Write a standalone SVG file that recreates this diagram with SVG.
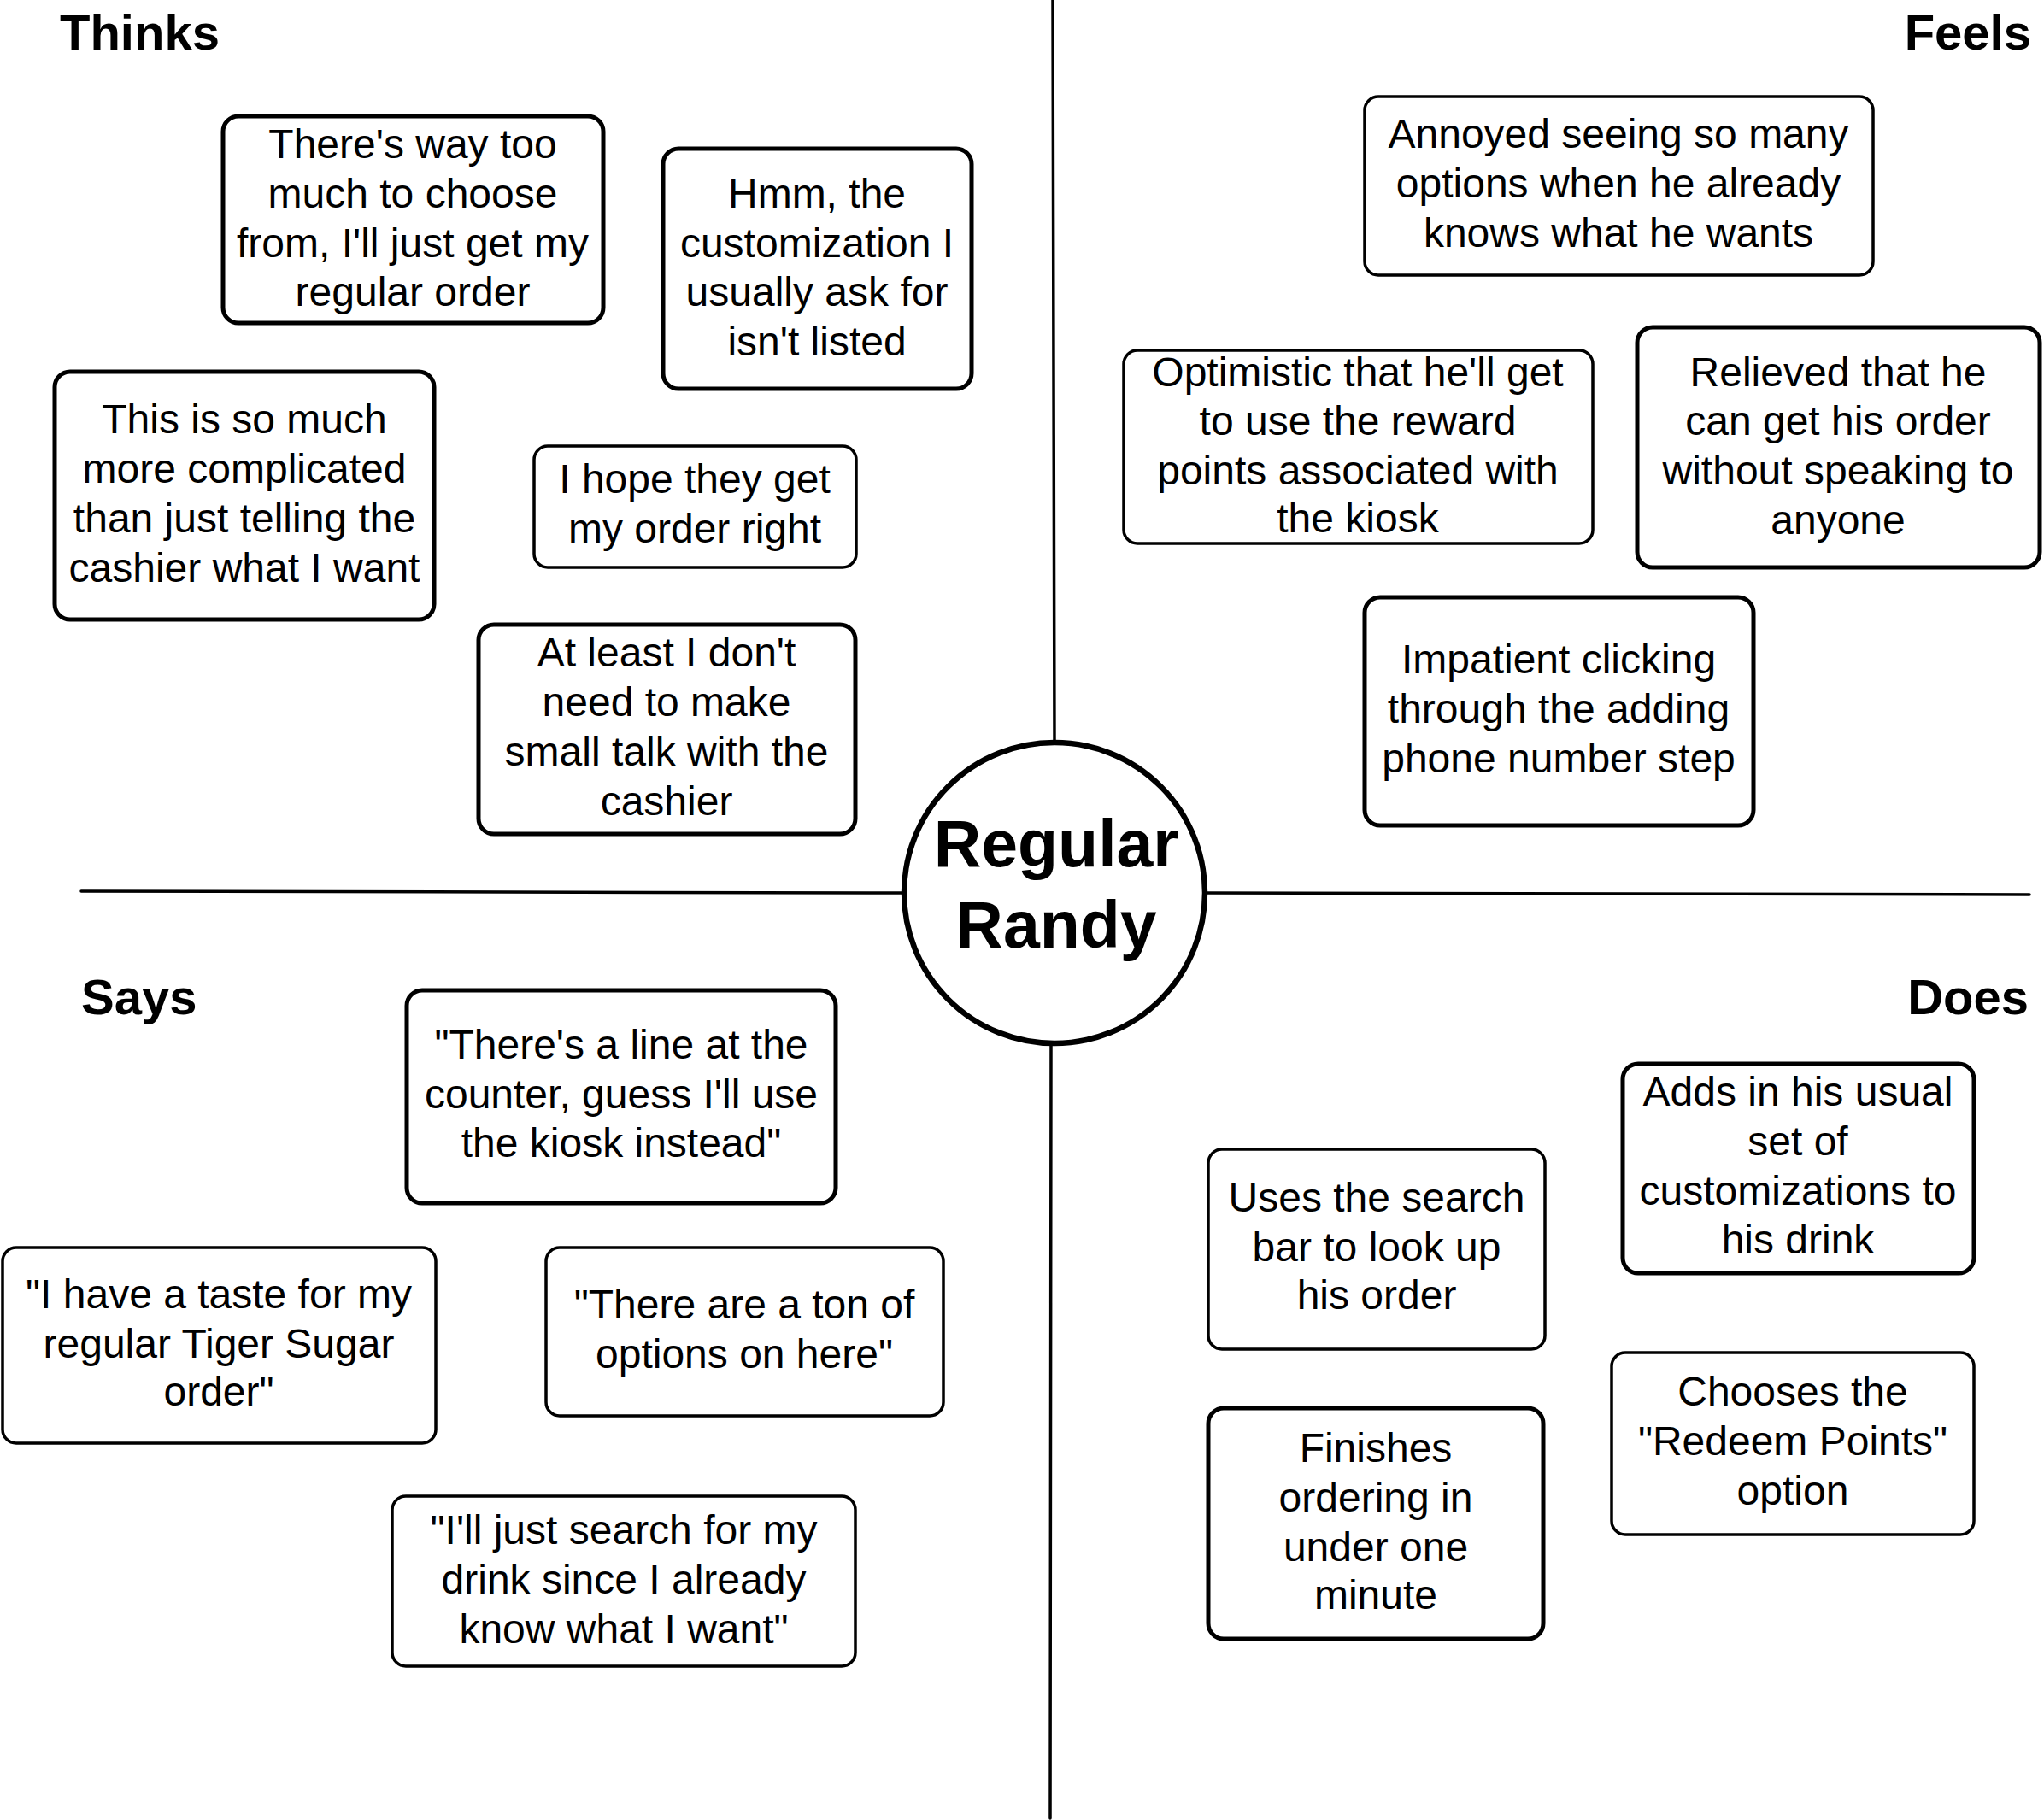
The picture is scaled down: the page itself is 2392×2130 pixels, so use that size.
<svg xmlns="http://www.w3.org/2000/svg" width="2392" height="2130" viewBox="0 0 2392 2130">
<style>
.bg{fill:#ffffff}
.ln{stroke:#000;stroke-width:3.5;fill:none;stroke-linecap:round}
.box{fill:#fff;stroke:#000;stroke-width:3.5}
.thick{stroke-width:5}
.t{font-family:"Liberation Sans",Arial,sans-serif;font-size:48px;fill:#000;text-anchor:middle}
.h{font-family:"Liberation Sans",Arial,sans-serif;font-size:58px;font-weight:bold;fill:#000}
.c{font-family:"Liberation Sans",Arial,sans-serif;font-size:77px;font-weight:bold;fill:#000;text-anchor:middle}
</style>
<rect class="bg" x="0" y="0" width="2392" height="2130"/>
<g id="connectors">
<line class="ln" x1="1232" y1="0" x2="1234" y2="869"/>
<line class="ln" x1="1230" y1="1221" x2="1229" y2="2128"/>
<line class="ln" x1="95" y1="1043" x2="1058" y2="1045"/>
<line class="ln" x1="1410" y1="1045" x2="2375" y2="1047"/>
</g>
<g id="titles">
<text class="h" x="70" y="58">Thinks</text>
<text class="h" x="2377" y="58" text-anchor="end">Feels</text>
<text class="h" x="95" y="1187">Says</text>
<text class="h" x="2374" y="1187" text-anchor="end">Does</text>
</g>
<g id="center">
<circle cx="1234" cy="1045" r="176" fill="#fff" stroke="#000" stroke-width="6.5"/>
<text class="c" x="1236" y="1014">Regular</text>
<text class="c" x="1236" y="1109">Randy</text>
</g>
<g id="n1"><rect class="box thick" x="261" y="136" width="445" height="242" rx="18"/>
<text class="t" x="483" y="185">There's way too</text><text class="t" x="483" y="243">much to choose</text><text class="t" x="483" y="301">from, I'll just get my</text><text class="t" x="483" y="358">regular order</text></g>
<g id="n2"><rect class="box thick" x="776" y="174" width="361" height="281" rx="18"/>
<text class="t" x="956" y="243">Hmm, the</text><text class="t" x="956" y="301">customization I</text><text class="t" x="956" y="358">usually ask for</text><text class="t" x="956" y="416">isn't listed</text></g>
<g id="n3"><rect class="box thick" x="64" y="435" width="444" height="290" rx="18"/>
<text class="t" x="286" y="507">This is so much</text><text class="t" x="286" y="565">more complicated</text><text class="t" x="286" y="623">than just telling the</text><text class="t" x="286" y="681">cashier what I want</text></g>
<g id="n4"><rect class="box" x="625" y="522" width="377" height="142" rx="16"/>
<text class="t" x="813" y="577">I hope they get</text><text class="t" x="813" y="635">my order right</text></g>
<g id="n5"><rect class="box thick" x="560" y="731" width="441" height="245" rx="18"/>
<text class="t" x="780" y="780">At least I don't</text><text class="t" x="780" y="838">need to make</text><text class="t" x="780" y="896">small talk with the</text><text class="t" x="780" y="954">cashier</text></g>
<g id="n6"><rect class="box" x="1597" y="113" width="595" height="209" rx="16"/>
<text class="t" x="1894" y="173">Annoyed seeing so many</text><text class="t" x="1894" y="231">options when he already</text><text class="t" x="1894" y="289">knows what he wants</text></g>
<g id="n7"><rect class="box" x="1315" y="410" width="549" height="226" rx="16"/>
<text class="t" x="1589" y="452">Optimistic that he'll get</text><text class="t" x="1589" y="509">to use the reward</text><text class="t" x="1589" y="567">points associated with</text><text class="t" x="1589" y="623">the kiosk</text></g>
<g id="n8"><rect class="box thick" x="1916" y="383" width="471" height="281" rx="18"/>
<text class="t" x="2151" y="452">Relieved that he</text><text class="t" x="2151" y="509">can get his order</text><text class="t" x="2151" y="567">without speaking to</text><text class="t" x="2151" y="625">anyone</text></g>
<g id="n9"><rect class="box thick" x="1597" y="699" width="455" height="267" rx="18"/>
<text class="t" x="1824" y="788">Impatient clicking</text><text class="t" x="1824" y="846">through the adding</text><text class="t" x="1824" y="904">phone number step</text></g>
<g id="n10"><rect class="box thick" x="476" y="1159" width="502" height="249" rx="18"/>
<text class="t" x="727" y="1239">"There's a line at the</text><text class="t" x="727" y="1297">counter, guess I'll use</text><text class="t" x="727" y="1354">the kiosk instead"</text></g>
<g id="n11"><rect class="box" x="3" y="1460" width="507" height="229" rx="16"/>
<text class="t" x="256" y="1531">"I have a taste for my</text><text class="t" x="256" y="1589">regular Tiger Sugar</text><text class="t" x="256" y="1645">order"</text></g>
<g id="n12"><rect class="box" x="639" y="1460" width="465" height="197" rx="16"/>
<text class="t" x="871" y="1543">"There are a ton of</text><text class="t" x="871" y="1601">options on here"</text></g>
<g id="n13"><rect class="box" x="459" y="1751" width="542" height="199" rx="16"/>
<text class="t" x="730" y="1807">"I'll just search for my</text><text class="t" x="730" y="1865">drink since I already</text><text class="t" x="730" y="1923">know what I want"</text></g>
<g id="n14"><rect class="box" x="1414" y="1345" width="394" height="234" rx="16"/>
<text class="t" x="1611" y="1418">Uses the search</text><text class="t" x="1611" y="1476">bar to look up</text><text class="t" x="1611" y="1532">his order</text></g>
<g id="n15"><rect class="box thick" x="1899" y="1245" width="411" height="245" rx="18"/>
<text class="t" x="2104" y="1294">Adds in his usual</text><text class="t" x="2104" y="1352">set of</text><text class="t" x="2104" y="1410">customizations to</text><text class="t" x="2104" y="1467">his drink</text></g>
<g id="n16"><rect class="box thick" x="1414" y="1648" width="392" height="270" rx="18"/>
<text class="t" x="1610" y="1711">Finishes</text><text class="t" x="1610" y="1769">ordering in</text><text class="t" x="1610" y="1827">under one</text><text class="t" x="1610" y="1883">minute</text></g>
<g id="n17"><rect class="box" x="1886" y="1583" width="424" height="213" rx="16"/>
<text class="t" x="2098" y="1645">Chooses the</text><text class="t" x="2098" y="1703">"Redeem Points"</text><text class="t" x="2098" y="1761">option</text></g>
</svg>
